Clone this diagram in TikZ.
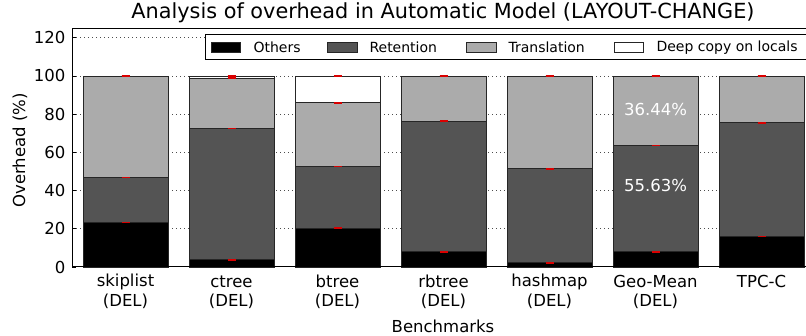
\documentclass[tikz,border=0pt]{standalone}
\usepackage{fontspec}
\setmainfont{DejaVu Sans}
\begin{document}
\begin{tikzpicture}[x=1pt,y=1.91pt,
  grid/.style={black!70, line width=0.7pt, dash pattern=on 0.8pt off 3.2pt},
  seg/.style={draw=black!85, line width=0.9pt},
  others/.style={seg, fill=black},
  retention/.style={seg, fill=black!67},
  translation/.style={seg, fill=black!33},
  deepcopy/.style={seg, fill=white},
  errmark/.style={red!85!black, line width=1.6pt},
  ticklbl/.style={font=\fontsize{16.5}{19}\selectfont},
  legtext/.style={font=\fontsize{14}{16}\selectfont, anchor=west},
  inlbl/.style={font=\fontsize{16.5}{19}\selectfont, text=white}]
\clip (0,-36.126) rectangle (806,139.79);

% horizontal dotted grid
\foreach \v in {20,40,...,120}
  \draw[grid] (72,\v) -- (815,\v);

% stacked bars: centre / others / retention / translation / deep copy tops
\foreach \xc/\ta/\tb/\tc/\td in {125.5/23.2/46.8/100/100,
                                 231.5/3.7/72.5/98.8/100,
                                 337.5/20.3/52.7/86/100,
                                 443.5/7.9/76.4/100/100,
                                 549.5/2.2/51.4/100/100,
                                 655.5/7.93/63.56/100/100,
                                 761.5/15.9/75.5/100/100}{
  \draw[others]      (\xc-42.5,0)   rectangle (\xc+42.5,\ta);
  \draw[retention]   (\xc-42.5,\ta) rectangle (\xc+42.5,\tb);
  \draw[translation] (\xc-42.5,\tb) rectangle (\xc+42.5,\tc);
  \ifdim \td pt > \tc pt
    \draw[deepcopy]  (\xc-42.5,\tc) rectangle (\xc+42.5,\td);
  \fi
  \foreach \v in {\ta,\tb,\tc,\td}
    \draw[errmark] (\xc-4,\v) -- (\xc+4,\v);
}

% values printed on the geometric-mean bar
\node[inlbl] (gtrans) at (655.5,82.7) {36.44\%};
\node[inlbl] (gret)   at (655.5,42.6) {55.63\%};

% axes frame and ticks
\draw[line width=1pt] (72,0) -- (72,125) -- (815,125);
\draw[line width=1pt] (72,0) -- (815,0);
\foreach \v in {0,20,...,120}{
  \draw[line width=0.7pt] (72,\v) -- (76,\v);
  \node[ticklbl, anchor=east] (y\v) at (69,\v) {\v};
}

% category labels
\foreach \xc/\nm/\sub in {125.5/skiplist/(DEL), 231.5/ctree/(DEL),
                          337.5/btree/(DEL), 443.5/rbtree/(DEL),
                          549.5/hashmap/(DEL), 655.5/Geo-Mean/(DEL),
                          761.5/TPC-C/{}}{
  \node[ticklbl] (n\xc) at (\xc,-7.7) {\nm};
  \node[ticklbl] (s\xc) at (\xc,-18.2) {\sub};
}

\node[ticklbl] (xlab) at (443,-30.9) {Benchmarks};
\node[ticklbl, rotate=90] (ylab) at (20,61) {Overhead (\%)};
\node[font=\fontsize{20.8}{24}\selectfont] (title) at (443,133.3)
  {Analysis of overhead in Automatic Model (LAYOUT-CHANGE)};

% legend
\draw[line width=1pt, fill=white] (205,108.4) rectangle (815,121.5);
\draw[others]      (211,112.3) rectangle (240,117.5);
\draw[retention]   (327,112.3) rectangle (357,117.5);
\draw[translation] (466,112.3) rectangle (496,117.5);
\draw[deepcopy]    (614,112.3) rectangle (643,117.5);
\node[legtext] (lo) at (250,114.9) {Others};
\node[legtext] (lr) at (366,114.9) {Retention};
\node[legtext] (lt) at (505,114.9) {Translation};
\node[legtext] (ld) at (653,114.9) {Deep copy on locals};
\end{tikzpicture}
\end{document}
